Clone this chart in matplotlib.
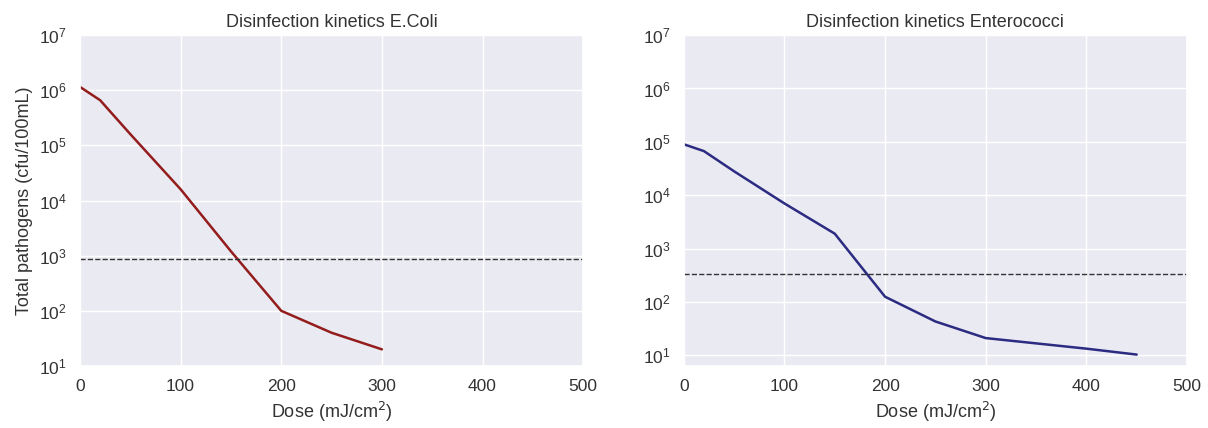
import matplotlib
matplotlib.use('Agg')
import matplotlib.pyplot as plt
import matplotlib.ticker as ticker
import seaborn as sns

# dose (mJ/cm2) vs total pathogens (cfu/100mL)
ecoli_dose = [0, 20, 50, 100, 150, 200, 250, 300]
ecoli_count = [1.15e6, 6.6e5, 1.6e5, 1.6e4, 1.2e3, 100, 40, 20]
ecoli_limit = 870

entero_dose = [0, 20, 50, 100, 150, 200, 250, 300, 400, 450]
entero_count = [9e4, 6.7e4, 2.8e4, 7e3, 1.9e3, 125, 43, 21, 13.3, 10.3]
entero_limit = 340

decades = [10 ** k for k in range(1, 8)]


def plot_kinetics(ax, dose, count, limit, color, title, ylim):
    ax.plot(dose, count, color=color, lw=1.8)
    ax.axhline(limit, color='#333333', ls='--', lw=1)
    ax.set_yscale('log')
    ax.set_yticks(decades)
    ax.yaxis.set_minor_locator(ticker.NullLocator())
    ax.set_ylim(*ylim)
    ax.set_xlim(0, 500)
    ax.set_xticks(range(0, 501, 100))
    ax.set_title(title, fontsize=13, color='#333333')
    ax.set_xlabel('Dose (mJ/cm$^2$)', fontsize=13, color='#333333')
    ax.tick_params(labelsize=12.5, colors='#333333')


def main():
    sns.set_theme(style='darkgrid')
    plt.rcParams['font.family'] = ['Liberation Sans', 'DejaVu Sans']
    fig, (ax1, ax2) = plt.subplots(1, 2, figsize=(12.08, 4.28), dpi=100)
    fig.subplots_adjust(left=0.0662, right=0.9826, top=0.918, bottom=0.145, wspace=0.2)

    plot_kinetics(ax1, ecoli_dose, ecoli_count, ecoli_limit, '#931c1c',
                  'Disinfection kinetics E.Coli', (10, 1e7))
    ax1.set_ylabel('Total pathogens (cfu/100mL)', fontsize=13, color='#333333')
    plot_kinetics(ax2, entero_dose, entero_count, entero_limit, '#2b2b82',
                  'Disinfection kinetics Enterococci', (10 ** 0.8, 1e7))

    fig.savefig('out.png')


if __name__ == '__main__':
    main()
